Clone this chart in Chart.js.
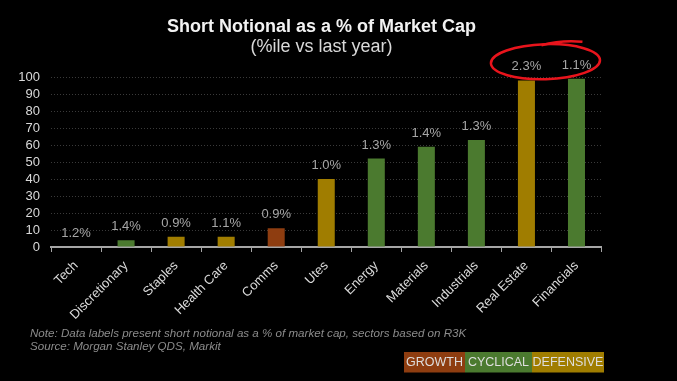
<!DOCTYPE html>
<html>
<head>
<meta charset="utf-8">
<script src="https://cdn.jsdelivr.net/npm/chart.js@4/dist/chart.umd.min.js"></script>
<style>
  html, body { margin: 0; padding: 0; background: #000; }
  #wrap { width: 677px; height: 381px; position: relative; }
</style>
</head>
<body>
<div id="wrap"><canvas id="c" width="677" height="381"></canvas></div>
<script>
const categories = ['Tech', 'Discretionary', 'Staples', 'Health Care', 'Comms', 'Utes', 'Energy', 'Materials', 'Industrials', 'Real Estate', 'Financials'];
const percentileValues = [0, 4, 6, 6, 11, 40, 52, 59, 63, 98, 99];
const shortNotionalLabels = ['1.2%', '1.4%', '0.9%', '1.1%', '0.9%', '1.0%', '1.3%', '1.4%', '1.3%', '2.3%', '1.1%'];
const sectorGroups = ['GROWTH', 'CYCLICAL', 'DEFENSIVE', 'DEFENSIVE', 'GROWTH', 'DEFENSIVE', 'CYCLICAL', 'CYCLICAL', 'CYCLICAL', 'DEFENSIVE', 'CYCLICAL'];
const groupNames = ['GROWTH', 'CYCLICAL', 'DEFENSIVE'];
const groupColors = { GROWTH: '#8e3d10', CYCLICAL: '#4b7a2f', DEFENSIVE: '#a07d00' };
const titleText = 'Short Notional as a % of Market Cap';
const subtitleText = '(%ile vs last year)';
const noteLines = ['Note: Data labels present short notional as a % of market cap, sectors based on R3K', 'Source: Morgan Stanley QDS, Markit'];

const FONT = '"Liberation Sans", Arial, Helvetica, sans-serif';

const decorPlugin = {
  id: 'decor',
  afterDatasetsDraw(chart) {
    const ctx = chart.ctx;
    const meta = chart.getDatasetMeta(0);
    // data labels above bars
    ctx.save();
    ctx.font = '13px ' + FONT;
    ctx.fillStyle = '#a6a6a6';
    ctx.textAlign = 'center';
    ctx.textBaseline = 'middle';
    meta.data.forEach((bar, i) => {
      ctx.fillText(shortNotionalLabels[i], bar.x, bar.y - 13.5);
    });
    ctx.restore();

    // red hand-drawn ellipse around the last two labels
    const xs = chart.scales.x, ys = chart.scales.y;
    const cx = xs.getPixelForValue(9.5) - 6;
    const cy = ys.getPixelForValue(109);
    const rx = xs.getPixelForValue(1) - xs.getPixelForValue(0);
    ctx.save();
    ctx.strokeStyle = '#e8141c';
    ctx.lineWidth = 2.5;
    ctx.beginPath();
    ctx.ellipse(cx, cy, rx * 1.09, 17.5, -0.03, 0, Math.PI * 2);
    ctx.stroke();
    ctx.beginPath();
    ctx.moveTo(cx - 4, cy - 16.5);
    ctx.quadraticCurveTo(cx + 16, cy - 22, cx + 37, cy - 20);
    ctx.stroke();
    ctx.restore();
  },
  afterDraw(chart) {
    const ctx = chart.ctx;
    ctx.save();
    // title
    ctx.textAlign = 'center';
    ctx.textBaseline = 'alphabetic';
    ctx.fillStyle = '#f2f2f2';
    ctx.font = 'bold 18px ' + FONT;
    ctx.fillText(titleText, 321.5, 32);
    ctx.fillStyle = '#d9d9d9';
    ctx.font = '18px ' + FONT;
    ctx.fillText(subtitleText, 321.5, 51.5);

    // notes
    ctx.textAlign = 'left';
    ctx.fillStyle = '#8c8c8c';
    ctx.font = 'italic 11.6px ' + FONT;
    ctx.fillText(noteLines[0], 30, 336.5);
    ctx.fillText(noteLines[1], 30, 349.5);

    // group legend
    const boxes = [[404, 465], [465, 532], [532, 604]];
    const top = 352, h = 20.5;
    ctx.font = '12.5px ' + FONT;
    ctx.textAlign = 'center';
    ctx.textBaseline = 'middle';
    groupNames.forEach((g, i) => {
      const [a, b] = boxes[i];
      ctx.fillStyle = groupColors[g];
      ctx.fillRect(a, top, b - a, h);
      ctx.fillStyle = '#dedede';
      ctx.fillText(g, (a + b) / 2, top + h / 2 + 0.5);
    });
    ctx.restore();
  }
};

new Chart(document.getElementById('c'), {
  type: 'bar',
  data: {
    labels: categories,
    datasets: [{
      data: percentileValues,
      backgroundColor: sectorGroups.map(g => groupColors[g]),
      borderWidth: 0,
      categoryPercentage: 1,
      barPercentage: 0.34
    }]
  },
  options: {
    responsive: false,
    animation: false,
    events: [],
    layout: { padding: { top: 77, left: 0, right: 75.5, bottom: 54 } },
    plugins: { legend: { display: false }, tooltip: { enabled: false }, title: { display: false } },
    scales: {
      x: {
        grid: { drawOnChartArea: false, drawTicks: true, tickLength: 5, color: '#a6a6a6', lineWidth: 1, offset: true },
        border: { display: true, color: '#a6a6a6', width: 2 },
        ticks: { color: '#d9d9d9', font: { family: FONT, size: 13 }, minRotation: 45, maxRotation: 45, padding: 6, autoSkip: false },
        afterFit(scale) { scale.height = 80; }
      },
      y: {
        min: 0, max: 100,
        grid: { color: '#3a3a3a', lineWidth: 1, drawTicks: false },
        border: { display: false, dash: [1, 2] },
        ticks: { stepSize: 10, autoSkip: false, maxTicksLimit: 20, color: '#d9d9d9', font: { family: FONT, size: 13, lineHeight: 1 }, padding: 11 },
        afterFit(scale) { scale.width = 51; }
      }
    }
  },
  plugins: [decorPlugin]
});
</script>
</body>
</html>
